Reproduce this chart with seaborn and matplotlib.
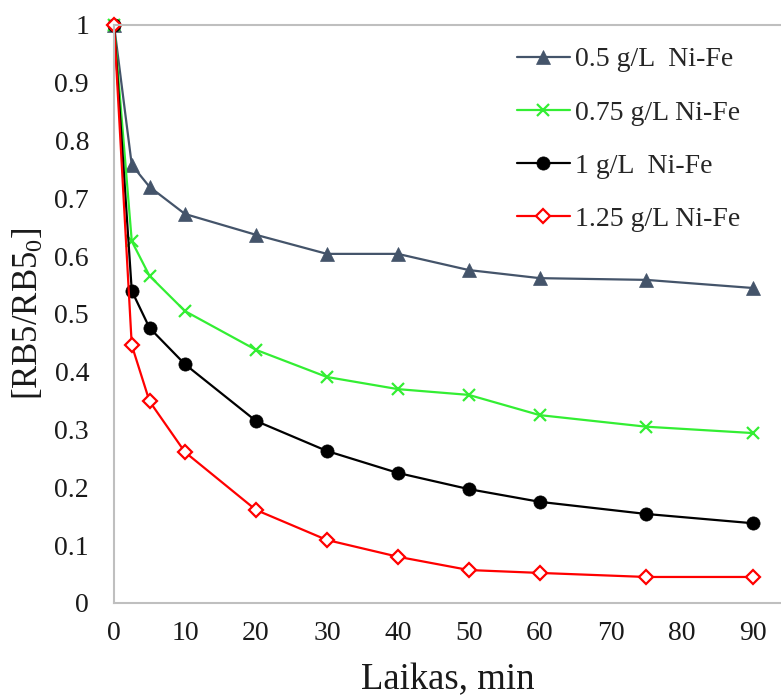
import numpy as np
import pandas as pd
import matplotlib
matplotlib.use("Agg")
import matplotlib.pyplot as plt
import seaborn as sns

time_min = [0, 2.5, 5, 10, 20, 30, 40, 50, 60, 75, 90]
series_labels = ["0.5 g/L  Ni-Fe", "0.75 g/L Ni-Fe", "1 g/L  Ni-Fe", "1.25 g/L Ni-Fe"]
y_05 = [1.0, 0.758, 0.720, 0.673, 0.637, 0.604, 0.604, 0.576, 0.562, 0.559, 0.545]
y_075 = [1.0, 0.626, 0.566, 0.505, 0.438, 0.391, 0.370, 0.360, 0.325, 0.305, 0.294]
y_1 = [1.0, 0.540, 0.476, 0.413, 0.315, 0.263, 0.225, 0.197, 0.175, 0.154, 0.138]
y_125 = [1.0, 0.446, 0.349, 0.261, 0.161, 0.109, 0.080, 0.057, 0.052, 0.045, 0.045]
x_ticks = [0, 10, 20, 30, 40, 50, 60, 70, 80, 90]
y_ticks = [0, 0.1, 0.2, 0.3, 0.4, 0.5, 0.6, 0.7, 0.8, 0.9, 1]

frames = []
for lab, ys in zip(series_labels, [y_05, y_075, y_1, y_125]):
    frames.append(pd.DataFrame({"t": time_min, "v": ys, "s": lab}))
df = pd.concat(frames, ignore_index=True)

sns.set_theme(style="white")
plt.rcParams["font.family"] = ["Liberation Serif", "DejaVu Serif"]
plt.rcParams["mathtext.default"] = "regular"

colors = {series_labels[0]: "#44546A", series_labels[1]: "#33EE33",
          series_labels[2]: "#000000", series_labels[3]: "#FF0000"}
markers = {series_labels[0]: "^", series_labels[1]: "x",
           series_labels[2]: "o", series_labels[3]: "D"}

fig = plt.figure(figsize=(7.81, 7.0), dpi=100)
ax = fig.add_axes([0.146, 0.1386, 0.854, 0.8257])

for lab in series_labels:
    sub = df[df["s"] == lab]
    c = colors[lab]
    kw = dict(color=c, marker=markers[lab], linewidth=1.6, clip_on=False)
    if lab == series_labels[0]:
        kw.update(markersize=10, markeredgecolor=c, markerfacecolor=c, markeredgewidth=0.5)
    elif lab == series_labels[1]:
        kw.update(markersize=9, markeredgecolor=c, markeredgewidth=1.6)
    elif lab == series_labels[2]:
        kw.update(markersize=9.5, markeredgecolor=c, markerfacecolor=c, markeredgewidth=0.5)
    else:
        kw.update(markersize=7, markerfacecolor="white", markeredgecolor=c, markeredgewidth=1.6)
    sns.lineplot(data=sub, x="t", y="v", ax=ax, label=lab, **kw)

ax.set_xlim(0, 94)
ax.set_ylim(0, 1)
ax.set_xticks(x_ticks)
ax.set_yticks(y_ticks)
ax.set_yticklabels([("%g" % v) for v in y_ticks])
ax.tick_params(axis="both", labelsize=20, length=0, colors="#1a1a1a")
ax.tick_params(axis="x", pad=13)
ax.tick_params(axis="y", pad=18)
for s in ["left", "bottom", "top"]:
    ax.spines[s].set_color("#BFBFBF")
    ax.spines[s].set_linewidth(1.5)
ax.spines["right"].set_visible(False)
ax.set_xlabel("Laikas, min", fontsize=26.5, labelpad=12, color="#1a1a1a")
ax.set_ylabel("[RB5/RB5$_{0}$]", fontsize=25, labelpad=6, color="#1a1a1a")

leg = ax.legend(loc="upper left", bbox_to_anchor=(517 / 781, 1 - 47 / 700),
                bbox_transform=fig.transFigure, frameon=False, borderpad=0, borderaxespad=0,
                fontsize=20, handlelength=1.9, handletextpad=0.2, labelspacing=1.0)

fig.savefig("out.png", dpi=100)
